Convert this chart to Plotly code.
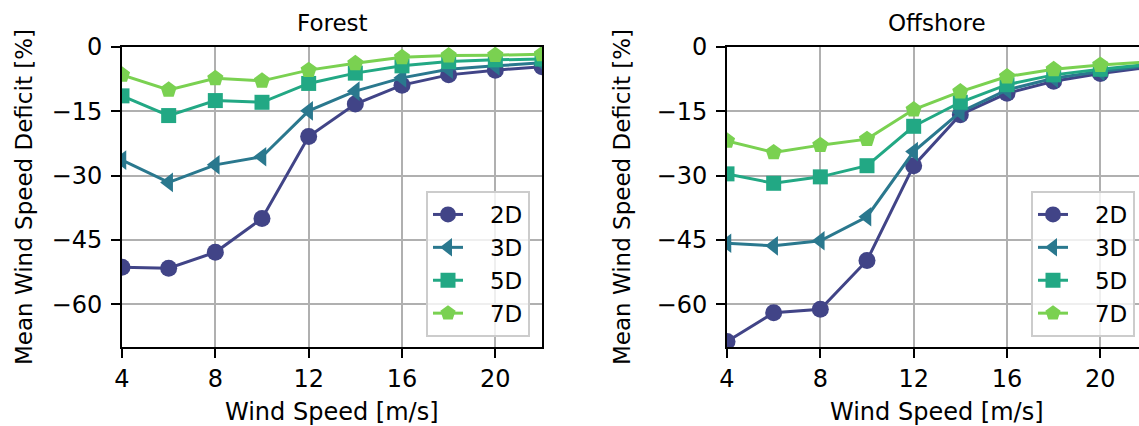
import plotly.graph_objects as go

wind_speed = [4, 6, 8, 10, 12, 14, 16, 18, 20, 22]
series_names = ["2D", "3D", "5D", "7D"]

forest_2d = [-51.4, -51.6, -47.9, -40.0, -20.9, -13.3, -8.9, -6.5, -5.4, -4.6]
forest_3d = [-26.4, -31.6, -27.5, -25.6, -14.9, -10.3, -7.2, -5.2, -4.4, -3.7]
forest_5d = [-11.4, -16.0, -12.5, -12.9, -8.5, -6.1, -4.4, -3.4, -3.0, -2.8]
forest_7d = [-6.5, -10.0, -7.3, -7.9, -5.4, -3.8, -2.4, -2.0, -1.9, -1.7]

offshore_2d = [-68.7, -62.0, -61.2, -49.8, -27.7, -15.8, -10.8, -8.0, -6.2, -4.8]
offshore_3d = [-45.8, -46.4, -45.2, -39.6, -24.4, -15.2, -10.0, -7.3, -5.7, -4.4]
offshore_5d = [-29.6, -31.8, -30.3, -27.7, -18.5, -12.9, -8.8, -6.5, -5.2, -4.1]
offshore_7d = [-21.9, -24.6, -22.9, -21.5, -14.6, -10.4, -6.9, -5.2, -4.2, -3.5]

y_tickvals = [0, -15, -30, -45, -60]
y_ticktext = ["0", "\u221215", "\u221230", "\u221245", "\u221260"]
x_tickvals = [4, 8, 12, 16, 20]

colors = ["#414487", "#2a788e", "#22a884", "#7ad151"]
symbols = ["circle", "triangle-left", "square", "pentagon"]
msizes = [17, 17, 15, 17]

W, H = 1139, 426
FONT = "DejaVu Sans"

def px_x(p):
    return p / W

def px_y(p):
    return 1 - p / H

fig = go.Figure()

panels = [
    ("x", "y", "legend", [forest_2d, forest_3d, forest_5d, forest_7d]),
    ("x2", "y2", "legend2", [offshore_2d, offshore_3d, offshore_5d, offshore_7d]),
]
for xa, ya, leg, data in panels:
    for name, vals, c, s, ms in zip(series_names, data, colors, symbols, msizes):
        fig.add_trace(go.Scatter(
            x=wind_speed, y=vals, name="\u00a0\u00a0\u00a0" + name, mode="lines+markers",
            line=dict(color=c, width=3),
            marker=dict(symbol=s, size=ms, color=c, line=dict(width=0)),
            xaxis=xa, yaxis=ya, legend=leg,
        ))

ydom = [px_y(347), px_y(47)]
axis_common = dict(
    showgrid=True, gridcolor="#b0b0b0", gridwidth=1.8,
    showline=True, linecolor="black", linewidth=2,
    ticks="outside", ticklen=9, tickwidth=2, tickcolor="black",
    tickfont=dict(family=FONT, size=24, color="black"),
    zeroline=False, automargin=False,
)

fig.update_layout(
    width=W, height=H,
    margin=dict(l=0, r=0, t=0, b=0),
    paper_bgcolor="white", plot_bgcolor="white",
    font=dict(family=FONT, color="black"),
    xaxis=dict(domain=[px_x(122), px_x(542)], range=[4, 22], tickvals=x_tickvals,
               mirror=True, anchor="y", **axis_common),
    yaxis=dict(domain=ydom, range=[-70, 0], tickvals=y_tickvals, ticktext=y_ticktext,
               mirror=True, anchor="x", ticklabelstandoff=4, **axis_common),
    xaxis2=dict(domain=[px_x(727), 1.0], range=[4, 4 + (W - 727) / (420 / 18)],
                tickvals=x_tickvals, mirror=True, anchor="y2", **axis_common),
    yaxis2=dict(domain=ydom, range=[-70, 0], tickvals=y_tickvals, ticktext=y_ticktext,
                mirror=False, anchor="x2", ticklabelstandoff=4, **axis_common),
    showlegend=True,
)

legend_common = dict(
    bgcolor="rgba(255,255,255,0.8)", bordercolor="#cccccc", borderwidth=2,
    font=dict(family=FONT, size=23, color="black"),
    xanchor="right", yanchor="bottom", tracegroupgap=0,
)
fig.update_layout(
    legend=dict(x=px_x(530), y=px_y(337), **legend_common),
    legend2=dict(x=px_x(1135), y=px_y(337), **legend_common),
)

ann = []
for cx, title in [(332, "Forest"), (937, "Offshore")]:
    ann.append(dict(text=title, x=px_x(cx), y=px_y(23), xref="paper", yref="paper",
                    showarrow=False, xanchor="center", yanchor="middle",
                    font=dict(family=FONT, size=23, color="black")))
    ann.append(dict(text="Wind Speed [m/s]", x=px_x(cx), y=px_y(412), xref="paper", yref="paper",
                    showarrow=False, xanchor="center", yanchor="middle",
                    font=dict(family=FONT, size=24, color="black")))
for cx in [24, 622]:
    ann.append(dict(text="Mean Wind Speed Deficit [%]", x=px_x(cx), y=px_y(197),
                    xref="paper", yref="paper", showarrow=False, textangle=-90,
                    xanchor="center", yanchor="middle",
                    font=dict(family=FONT, size=23, color="black")))
fig.update_layout(annotations=ann)

fig.write_html(
    "out.html",
    config={"displayModeBar": False},
    post_script="document.body.style.margin='0';document.body.style.padding='0';document.body.style.overflow='hidden';",
)
